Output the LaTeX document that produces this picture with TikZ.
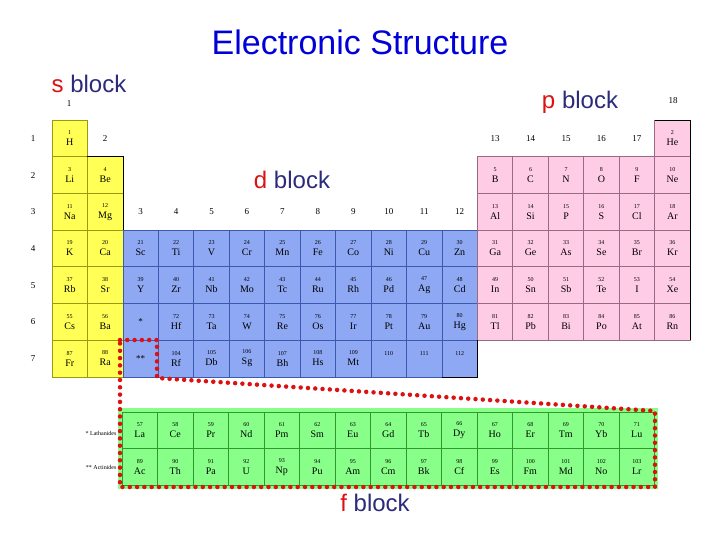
\documentclass[tikz,border=0pt]{standalone}
\usepackage{fontspec}
\setmainfont{Liberation Serif}
\newfontfamily\ttl{Liberation Sans}
\definecolor{sy}{HTML}{FFFF55}\definecolor{syb}{HTML}{9A9A10}
\definecolor{db}{HTML}{8EA8F4}\definecolor{dbb}{HTML}{3A5AB0}
\definecolor{pp}{HTML}{FFCCE6}\definecolor{ppb}{HTML}{9A6A85}
\definecolor{fg}{HTML}{88FF88}\definecolor{fgb}{HTML}{2E9A2E}
\definecolor{nv}{HTML}{2B2B7A}\definecolor{rd}{HTML}{DD1111}
\newcommand\el[5]{\node[cellbox,#5] (e#3) at ({52+35.45*(#1-0.5)},{120+36.7*(#2-0.5)}) {{\fontsize{6}{6}\selectfont #3}\\[-1pt]{\fontsize{10}{10}\selectfont #4}};}
\newcommand\fe[4]{\node[cellbox,fbox] (e#3) at ({122+35.5*(#1-0.5)},{412+36.5*(#2-0.5)}) {{\fontsize{6}{6}\selectfont #3}\\[-1pt]{\fontsize{10}{10}\selectfont #4}};}
\tikzset{cellbox/.style={minimum width=35.45pt,minimum height=36.7pt,inner sep=0pt,outer sep=0pt,align=center,line width=0.8pt},
sbox/.style={fill=sy,draw=syb},dbox/.style={fill=db,draw=dbb},pbox/.style={fill=pp,draw=ppb},fbox/.style={fill=fg,draw=fgb,minimum width=35.5pt,minimum height=36.5pt},
lbl/.style={font=\fontsize{9}{9}\selectfont},
blk/.style={font=\ttl\fontsize{24}{24}\selectfont,text=nv}}
\begin{document}
\begin{tikzpicture}[x=1pt,y=-1pt]
\useasboundingbox (0,0) rectangle (720,540);
\fill[white] (0,0) rectangle (720,540);
\node[font=\ttl\fontsize{34}{34}\selectfont,text=blue!85!black] (title) at (360,42) {Electronic Structure};
% row numbers
\foreach \r in {1,...,7}{\node[lbl] (r\r) at (33,{120+36.7*(\r-0.5)}) {\r};}
\node[lbl] (g1) at (69,104) {1};
\node[lbl] (g2) at (105,139) {2};
\foreach \g in {3,...,12}{\node[lbl] (g\g) at ({52+35.45*(\g-0.5)},212) {\g};}
\foreach \g in {13,...,17}{\node[lbl] (g\g) at ({52+35.45*(\g-0.5)},139) {\g};}
\node[lbl] (g18) at (673,101) {18};
% s block
\el{1}{1}{1}{H}{sbox}
\el{1}{2}{3}{Li}{sbox}\el{2}{2}{4}{Be}{sbox}
\el{1}{3}{11}{Na}{sbox}\el{2}{3}{12}{Mg}{sbox}
\el{1}{4}{19}{K}{sbox}\el{2}{4}{20}{Ca}{sbox}
\el{1}{5}{37}{Rb}{sbox}\el{2}{5}{38}{Sr}{sbox}
\el{1}{6}{55}{Cs}{sbox}\el{2}{6}{56}{Ba}{sbox}
\el{1}{7}{87}{Fr}{sbox}\el{2}{7}{88}{Ra}{sbox}
% d block
\el{3}{4}{21}{Sc}{dbox}\el{4}{4}{22}{Ti}{dbox}\el{5}{4}{23}{V}{dbox}\el{6}{4}{24}{Cr}{dbox}\el{7}{4}{25}{Mn}{dbox}\el{8}{4}{26}{Fe}{dbox}\el{9}{4}{27}{Co}{dbox}\el{10}{4}{28}{Ni}{dbox}\el{11}{4}{29}{Cu}{dbox}\el{12}{4}{30}{Zn}{dbox}
\el{3}{5}{39}{Y}{dbox}\el{4}{5}{40}{Zr}{dbox}\el{5}{5}{41}{Nb}{dbox}\el{6}{5}{42}{Mo}{dbox}\el{7}{5}{43}{Tc}{dbox}\el{8}{5}{44}{Ru}{dbox}\el{9}{5}{45}{Rh}{dbox}\el{10}{5}{46}{Pd}{dbox}\el{11}{5}{47}{Ag}{dbox}\el{12}{5}{48}{Cd}{dbox}
\node[cellbox,dbox,font=\fontsize{9}{9}\selectfont] (st1) at ({52+35.45*2.5},{120+36.7*5.5}) {*};
\el{4}{6}{72}{Hf}{dbox}\el{5}{6}{73}{Ta}{dbox}\el{6}{6}{74}{W}{dbox}\el{7}{6}{75}{Re}{dbox}\el{8}{6}{76}{Os}{dbox}\el{9}{6}{77}{Ir}{dbox}\el{10}{6}{78}{Pt}{dbox}\el{11}{6}{79}{Au}{dbox}\el{12}{6}{80}{Hg}{dbox}
\node[cellbox,dbox,font=\fontsize{9}{9}\selectfont] (st2) at ({52+35.45*2.5},{120+36.7*6.5}) {**};
\el{4}{7}{104}{Rf}{dbox}\el{5}{7}{105}{Db}{dbox}\el{6}{7}{106}{Sg}{dbox}\el{7}{7}{107}{Bh}{dbox}\el{8}{7}{108}{Hs}{dbox}\el{9}{7}{109}{Mt}{dbox}\el{10}{7}{110}{\phantom{X}}{dbox}\el{11}{7}{111}{\phantom{X}}{dbox}\el{12}{7}{112}{\phantom{X}}{dbox}
% p block
\el{18}{1}{2}{He}{pbox}
\el{13}{2}{5}{B}{pbox}\el{14}{2}{6}{C}{pbox}\el{15}{2}{7}{N}{pbox}\el{16}{2}{8}{O}{pbox}\el{17}{2}{9}{F}{pbox}\el{18}{2}{10}{Ne}{pbox}
\el{13}{3}{13}{Al}{pbox}\el{14}{3}{14}{Si}{pbox}\el{15}{3}{15}{P}{pbox}\el{16}{3}{16}{S}{pbox}\el{17}{3}{17}{Cl}{pbox}\el{18}{3}{18}{Ar}{pbox}
\el{13}{4}{31}{Ga}{pbox}\el{14}{4}{32}{Ge}{pbox}\el{15}{4}{33}{As}{pbox}\el{16}{4}{34}{Se}{pbox}\el{17}{4}{35}{Br}{pbox}\el{18}{4}{36}{Kr}{pbox}
\el{13}{5}{49}{In}{pbox}\el{14}{5}{50}{Sn}{pbox}\el{15}{5}{51}{Sb}{pbox}\el{16}{5}{52}{Te}{pbox}\el{17}{5}{53}{I}{pbox}\el{18}{5}{54}{Xe}{pbox}
\el{13}{6}{81}{Tl}{pbox}\el{14}{6}{82}{Pb}{pbox}\el{15}{6}{83}{Bi}{pbox}\el{16}{6}{84}{Po}{pbox}\el{17}{6}{85}{At}{pbox}\el{18}{6}{86}{Rn}{pbox}
% outlines
\draw[black,line width=0.8pt] (e4.north west) -- (e4.north east) -- (e12.south east);
\draw[black,line width=0.8pt] (e112.north east) -- (e112.south east) -- (e112.south west);
\draw[black,line width=0.8pt] (e2.north west) -- (e2.north east) -- (e86.south east);
% f block
\fill[fg] (118,408) rectangle (658,489);
\fe{1}{1}{57}{La}\fe{2}{1}{58}{Ce}\fe{3}{1}{59}{Pr}\fe{4}{1}{60}{Nd}\fe{5}{1}{61}{Pm}\fe{6}{1}{62}{Sm}\fe{7}{1}{63}{Eu}\fe{8}{1}{64}{Gd}\fe{9}{1}{65}{Tb}\fe{10}{1}{66}{Dy}\fe{11}{1}{67}{Ho}\fe{12}{1}{68}{Er}\fe{13}{1}{69}{Tm}\fe{14}{1}{70}{Yb}\fe{15}{1}{71}{Lu}
\fe{1}{2}{89}{Ac}\fe{2}{2}{90}{Th}\fe{3}{2}{91}{Pa}\fe{4}{2}{92}{U}\fe{5}{2}{93}{Np}\fe{6}{2}{94}{Pu}\fe{7}{2}{95}{Am}\fe{8}{2}{96}{Cm}\fe{9}{2}{97}{Bk}\fe{10}{2}{98}{Cf}\fe{11}{2}{99}{Es}\fe{12}{2}{100}{Fm}\fe{13}{2}{101}{Md}\fe{14}{2}{102}{No}\fe{15}{2}{103}{Lr}
\node[font=\fontsize{6}{6}\selectfont,anchor=east] (lan) at (120,433) {* Lathanides};
\node[font=\fontsize{6}{6}\selectfont,anchor=east] (act) at (120,467) {** Actinides};
% red dotted outline
\coordinate (d1) at (120,340);\coordinate (d2) at (157,340);\coordinate (d3) at (157,378);
\coordinate (d4) at (655,411);\coordinate (d5) at (655,487);\coordinate (d6) at (120,487);
\draw[rd,line width=4.5pt,line cap=round,dash pattern=on 0pt off 7.3pt] (d1) -- (d2) -- (d3) -- (d4) -- (d5) -- (d6) -- cycle;
% block labels
\node[blk] (sb) at (89,84) {\textcolor{rd}{s} block};
\node[blk] (pb) at (580,102) {\textcolor{rd}{p} block};
\node[blk] (dbk) at (292,180) {\textcolor{rd}{d} block};
\node[blk] (fb) at (375,503) {\textcolor{rd}{f} block};
\end{tikzpicture}
\end{document}
